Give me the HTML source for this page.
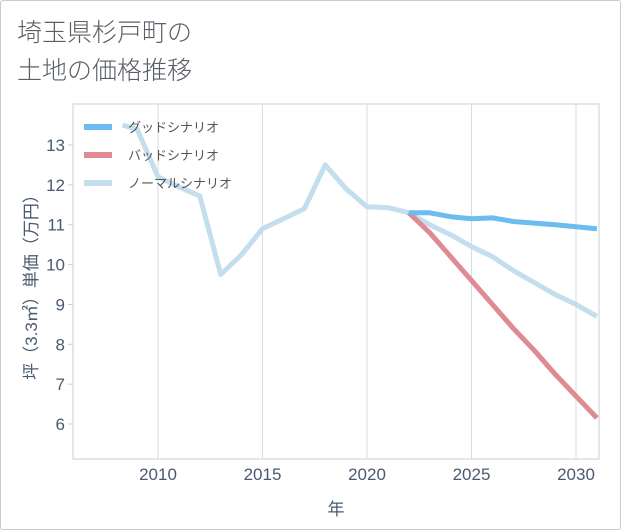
<!DOCTYPE html>
<html><head><meta charset="utf-8"><style>
body{margin:0;background:#fff;}
#card{position:absolute;left:0;top:0;width:619px;height:528px;border:1px solid #ccc;border-radius:3px;background:#fff;font-family:"Liberation Sans","Noto Sans CJK JP",sans-serif;}
.t{position:absolute;left:16px;font-size:25px;color:#5a5f66;font-weight:300;}
</style></head><body>
<div id="card">
<div class="t" style="top:12px">埼玉県杉戸町の</div>
<div class="t" style="top:50px">土地の価格推移</div>
<svg id="c" width="621" height="530" style="position:absolute;left:0;top:0"></svg>
</div>
<script>
const yearsNormal=[2008.3,2009,2010,2011,2012,2013,2014,2015,2016,2017,2018,2019,2020,2021,2022,2023,2024,2025,2026,2027,2028,2029,2030,2031];
const normalVals=[13.5,13.4,12.2,11.95,11.72,9.75,10.25,10.9,11.15,11.4,12.5,11.9,11.45,11.43,11.3,11.0,10.75,10.45,10.2,9.85,9.55,9.25,9.0,8.7];
const yearsFuture=[2022,2023,2024,2025,2026,2027,2028,2029,2030,2031];
const goodVals=[11.3,11.3,11.2,11.15,11.17,11.08,11.04,11.0,10.95,10.9];
const badVals=[11.3,10.8,10.2,9.6,9.0,8.4,7.85,7.25,6.7,6.15];
const xTicks=[2010,2015,2020,2025,2030];
const yTicks=[6,7,8,9,10,11,12,13];
const legendLabels=["グッドシナリオ","バッドシナリオ","ノーマルシナリオ"];
const ns="http://www.w3.org/2000/svg",svg=document.getElementById('c');
const L=72,R=598,T=103,B=458;
const xs=y=>157+(y-2010)*20.9;
const ys=v=>144+(13-v)*39.86;
function el(t,a,p){const e=document.createElementNS(ns,t);for(const k in a)e.setAttribute(k,a[k]);(p||svg).appendChild(e);return e;}
const frame=el('rect',{x:L,y:T,width:R-L,height:B-T,fill:'none',stroke:'#c8ced6'});


xTicks.forEach(t=>{
 const g=el('line',{x1:xs(t),x2:xs(t),y1:T,y2:B,stroke:'#d5dde6'});
 
 
 const tx=el('text',{x:xs(t),y:B+21,'text-anchor':'middle','font-size':'17',fill:'#4a5a70'});
 tx.textContent=t;
 
 
});
yTicks.forEach(t=>{
 const g=el('line',{x1:L-5,x2:L,y1:ys(t),y2:ys(t),stroke:'#c8ced6'});
 
 
 const tx=el('text',{x:L-8,y:ys(t)+6,'text-anchor':'end','font-size':'17',fill:'#4a5a70'});
 tx.textContent=t;
 
 
});
const xt=el('text',{x:335,y:514,'text-anchor':'middle','font-size':'17',fill:'#4a5a70'});
xt.textContent='年';


const yt=el('text',{x:0,y:0,transform:'translate(36,282) rotate(-90)','text-anchor':'middle','font-size':'17',fill:'#4a5a70'});
yt.textContent='坪（3.3㎡）単価（万円）';


const cp=el('clipPath',{id:'cp'});el('rect',{x:L,y:T,width:R-L,height:B-T},cp);
function line(xsArr,vals,color,name){
 const d=xsArr.map((y,i)=>(i?'L':'M')+xs(y).toFixed(1)+','+ys(vals[i]).toFixed(1)).join('');
 const p=el('path',{d:d,fill:'none',stroke:color,'stroke-width':'5','stroke-linejoin':'round','clip-path':'url(#cp)'});
 
 
}
line(yearsNormal,normalVals,'#c3deed','normal-scenario-line');
line(yearsFuture,badVals,'#e08a94','bad-scenario-line');
line(yearsFuture,goodVals,'#6dbcf0','good-scenario-line');
const lc=['#6dbcf0','#e08a94','#c3deed'];
legendLabels.forEach((s,i)=>{
 const y=126+i*28;
 const g=el('g',{});
 
 
 el('line',{x1:83,x2:111,y1:y,y2:y,stroke:lc[i],'stroke-width':'6'},g);
 const tx=el('text',{x:127,y:y+5,'font-size':'13',fill:'#555'},g);
 tx.textContent=s;
});
</script>
</body></html>
